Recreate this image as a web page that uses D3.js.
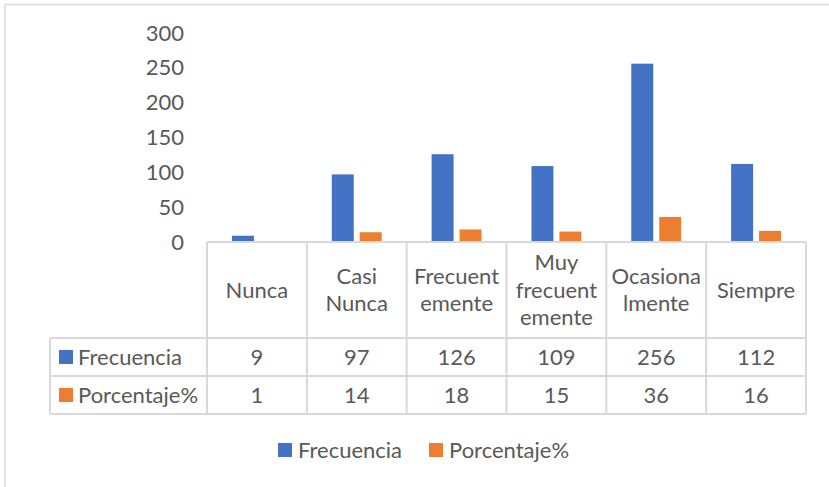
<!DOCTYPE html>
<html>
<head>
    <meta charset="utf-8">
    <title></title>
    <style>
        body { margin: 0; background: #fff; }
        text { font-family: Lato, "Noto Sans", sans-serif; fill: #595959; }
    </style>
</head>
<body>
    <script src="https://d3js.org/d3.v7.min.js"></script>
    <script>

    // data
    var categories = ["Nunca", "Casi Nunca", "Frecuentemente", "Muy frecuentemente", "Ocasionalmente", "Siempre"];
    // wrapped header text as it appears in the table
    var categoryLines = [["Nunca"], ["Casi", "Nunca"], ["Frecuent", "emente"], ["Muy", "frecuent", "emente"], ["Ocasiona", "lmente"], ["Siempre"]];
    var series = ["Frecuencia", "Porcentaje%"];
    var frecuencia = [9, 97, 126, 109, 256, 112];
    var porcentaje = [1, 14, 18, 15, 36, 16];
    var yTicks = [0, 50, 100, 150, 200, 250, 300];
    var colors = ["#4472c4", "#ed7d31"];

    var W = 829, H = 487;
    var plot = { left: 207, right: 806, top: 33, bottom: 242 };
    var tableLeft = 50, headerBottom = 338, rowH = 38;
    var fontSize = 22;

    var svg = d3.select("body").append("svg")
        .attr("width", W)
        .attr("height", H);

    // chart area border
    svg.append("rect")
        .attr("x", 5).attr("y", 4.5)
        .attr("width", W + 10).attr("height", H + 10)
        .attr("fill", "none")
        .attr("stroke", "#d9d9d9")
        .attr("stroke-width", 1.5);

    var x = d3.scaleBand().domain(categories).range([plot.left, plot.right]);
    var xs = d3.scaleBand().domain(series)
        .range([x.bandwidth() * 0.25, x.bandwidth() * 0.75])
        .paddingInner(0.214);
    var y = d3.scaleLinear().domain([0, 300]).range([plot.bottom, plot.top]);

    // y tick labels (no axis line)
    var yAxis = d3.axisLeft(y).tickValues(yTicks).tickSize(0).tickPadding(0);
    var gY = svg.append("g")
        .attr("transform", "translate(184,0)")
        .call(yAxis);
    gY.select(".domain").remove();
    gY.selectAll("text")
        .attr("font-size", fontSize)
        .attr("font-family", null)
        .attr("fill", "#595959");

    // bars
    var values = [frecuencia, porcentaje];
    series.forEach(function(s, si) {
        svg.append("g").selectAll("rect")
            .data(categories)
            .enter()
            .append("rect")
            .attr("x", function(d) { return x(d) + xs(s); })
            .attr("width", xs.bandwidth())
            .attr("y", function(d, i) { return y(values[si][i]); })
            .attr("height", function(d, i) { return y(0) - y(values[si][i]); })
            .attr("fill", colors[si]);
    });

    // data table
    var grid = svg.append("g")
        .attr("stroke", "#d9d9d9")
        .attr("stroke-width", 2);
    var tableBottom = headerBottom + rowH * series.length;
    grid.append("line")
        .attr("x1", plot.left).attr("x2", plot.right)
        .attr("y1", plot.bottom).attr("y2", plot.bottom);
    for (var r = 0; r <= series.length; r++) {
        grid.append("line")
            .attr("x1", tableLeft).attr("x2", plot.right)
            .attr("y1", headerBottom + r * rowH).attr("y2", headerBottom + r * rowH);
    }
    grid.append("line")
        .attr("x1", tableLeft).attr("x2", tableLeft)
        .attr("y1", headerBottom).attr("y2", tableBottom);
    var edges = categories.map(function(c) { return x(c); }).concat([plot.right]);
    grid.selectAll(".v").data(edges).enter().append("line")
        .attr("x1", function(d) { return d; }).attr("x2", function(d) { return d; })
        .attr("y1", plot.bottom).attr("y2", tableBottom);

    // header labels
    var lineH = 27.5;
    var headerMid = (plot.bottom + headerBottom) / 2;
    categories.forEach(function(c, i) {
        var lines = categoryLines[i];
        var t = svg.append("text")
            .attr("text-anchor", "middle")
            .attr("font-size", fontSize)
            .attr("x", x(c) + x.bandwidth() / 2);
        lines.forEach(function(l, j) {
            t.append("tspan")
                .attr("x", x(c) + x.bandwidth() / 2)
                .attr("y", headerMid + (j - (lines.length - 1) / 2) * lineH)
                .attr("dy", "0.35em")
                .text(l);
        });
    });

    // value rows
    series.forEach(function(s, si) {
        var cy = headerBottom + si * rowH + rowH / 2;
        svg.append("rect")
            .attr("x", 59).attr("y", cy - 7)
            .attr("width", 14).attr("height", 14)
            .attr("fill", colors[si]);
        svg.append("text")
            .attr("x", 78).attr("y", cy).attr("dy", "0.35em")
            .attr("font-size", fontSize)
            .text(s);
        svg.append("g").selectAll("text")
            .data(categories)
            .enter()
            .append("text")
            .attr("text-anchor", "middle")
            .attr("x", function(d) { return x(d) + x.bandwidth() / 2; })
            .attr("y", cy).attr("dy", "0.35em")
            .attr("font-size", fontSize)
            .text(function(d, i) { return values[si][i]; });
    });

    // legend
    var legendX = [278, 429];
    var legend = svg.append("g");
    series.forEach(function(s, si) {
        legend.append("rect")
            .attr("x", legendX[si]).attr("y", 443)
            .attr("width", 14).attr("height", 14)
            .attr("fill", colors[si]);
        legend.append("text")
            .attr("x", legendX[si] + 20).attr("y", 450).attr("dy", "0.35em")
            .attr("font-size", fontSize)
            .text(s);
    });

    </script>
</body>
</html>
